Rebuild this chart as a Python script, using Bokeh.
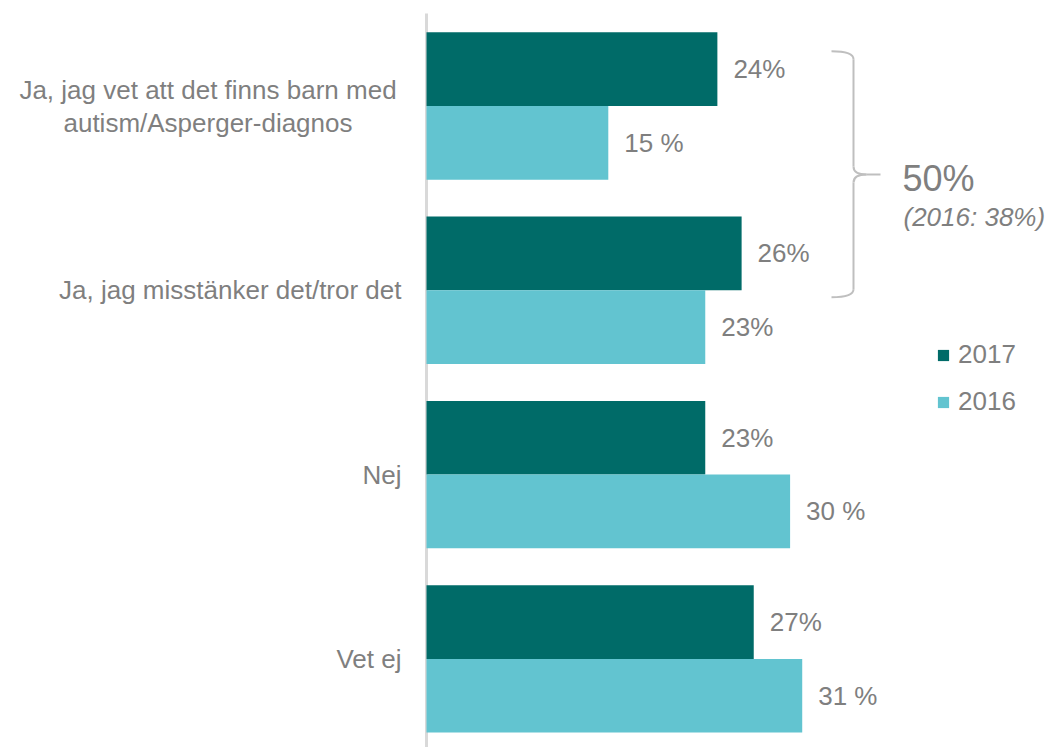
from bokeh.plotting import figure
from bokeh.models import Range1d, Legend, LegendItem
from bokeh.core.properties import value
from bokeh.embed import file_html
from bokeh.resources import INLINE

# ---- data ----
categories = ["Ja, jag vet att det finns barn med\nautism/Asperger-diagnos",
              "Ja, jag misstänker det/tror det",
              "Nej",
              "Vet ej"]
values_2017 = [24, 26, 23, 27]
values_2016 = [15, 23, 30, 31]
labels_2017 = ["24%", "26%", "23%", "27%"]
labels_2016 = ["15 %", "23%", "30 %", "31 %"]
series_names = ["2017", "2016"]
bracket_main = "50%"
bracket_sub = "(2016: 38%)"

# ---- styling / layout ----
C2017 = "#006B68"
C2016 = "#62C4D0"
TXT = "#7F7F7F"
FONT = "Liberation Sans"
FS = "26px"
W, H = 1050, 747
PX = 12.12          # pixels per percent
PY = 184.3          # pixels per category
X0_PAGE = 426       # page x of 0 %
Y0_PAGE = 105.5     # page y of first category centre
FRAME_L, FRAME_T = 0, 0

def px2x(px):
    return (px - X0_PAGE) / PX

def py2y(py):
    return (py - Y0_PAGE) / PY

x_start = px2x(FRAME_L)
x_end = px2x(FRAME_L + W)
y_top = py2y(FRAME_T)
y_bot = py2y(FRAME_T + H)

p = figure(width=W, height=H, output_backend="svg", toolbar_location=None,
           x_axis_location=None, y_axis_location=None,
           x_range=Range1d(x_start, x_end), y_range=Range1d(y_bot, y_top),
           min_border=0, outline_line_color=None)
p.xgrid.visible = False
p.ygrid.visible = False
p.background_fill_color = "white"

idx = list(range(len(categories)))
BH = 0.4
y17 = [i - BH / 2 for i in idx]
y16 = [i + BH / 2 for i in idx]

# axis line
p.segment(x0=[0], y0=[py2y(13)], x1=[0], y1=[y_bot], line_color="#D9D9D9", line_width=3)

r17 = p.hbar(y=y17, right=values_2017, left=0, height=BH, fill_color=C2017, line_color=None)
r16 = p.hbar(y=y16, right=values_2016, left=0, height=BH, fill_color=C2016, line_color=None)

off = 16 / PX
p.text(x=[v + off for v in values_2017], y=y17, text=labels_2017, text_baseline="middle",
       text_align="left", text_color=TXT, text_font=value(FONT), text_font_size=FS)
p.text(x=[v + off for v in values_2016], y=y16, text=labels_2016, text_baseline="middle",
       text_align="left", text_color=TXT, text_font=value(FONT), text_font_size=FS)

# category labels
single = [(c, i) for i, c in zip(idx, categories) if "\n" not in c]
multi = [(c, i) for i, c in zip(idx, categories) if "\n" in c]
p.text(x=[px2x(401)] * len(single), y=[i for _, i in single], text=[c for c, _ in single],
       text_align="right", text_baseline="middle", text_color=TXT,
       text_font=value(FONT), text_font_size=FS)
if multi:
    p.text(x=[px2x(207.5)] * len(multi), y=[i for _, i in multi], text=[c for c, _ in multi],
           text_align="center", text_baseline="middle", text_color=TXT,
           text_font=value(FONT), text_font_size=FS, text_line_height=1.1)

# bracket
BC = "#BFBFBF"
bx = px2x(853)
p.quadratic(x0=[px2x(831), bx, px2x(866), bx],
            y0=[py2y(50.7), py2y(166), py2y(174), py2y(288.7)],
            x1=[bx, px2x(866), bx, px2x(831)],
            y1=[py2y(58.7), py2y(174), py2y(182), py2y(296.7)],
            cx=[bx, bx, bx, bx],
            cy=[py2y(50.7), py2y(174), py2y(174), py2y(296.7)],
            line_color=BC, line_width=2)
p.segment(x0=[bx, bx, px2x(866)], y0=[py2y(58.7), py2y(182), py2y(174)],
          x1=[bx, bx, px2x(880)], y1=[py2y(166), py2y(288.7), py2y(174)],
          line_color=BC, line_width=2)
p.text(x=[px2x(902)], y=[py2y(178)], text=[bracket_main], text_align="left",
       text_baseline="middle", text_color=TXT, text_font=value(FONT), text_font_size="36px")
p.text(x=[px2x(903)], y=[py2y(216)], text=[bracket_sub], text_align="left",
       text_baseline="middle", text_color=TXT, text_font=value(FONT), text_font_size=FS,
       text_font_style="italic")

legend = Legend(items=[LegendItem(label=series_names[0], renderers=[r17]),
                       LegendItem(label=series_names[1], renderers=[r16])],
                location=(936, 330), orientation="vertical",
                glyph_width=14, glyph_height=14, label_standoff=8,
                label_text_font=FONT, label_text_font_size=FS, label_text_color=TXT,
                spacing=16, padding=0, margin=0, border_line_color=None,
                background_fill_alpha=0)
p.add_layout(legend, "center")

open("out.html", "w").write(file_html(p, INLINE))
